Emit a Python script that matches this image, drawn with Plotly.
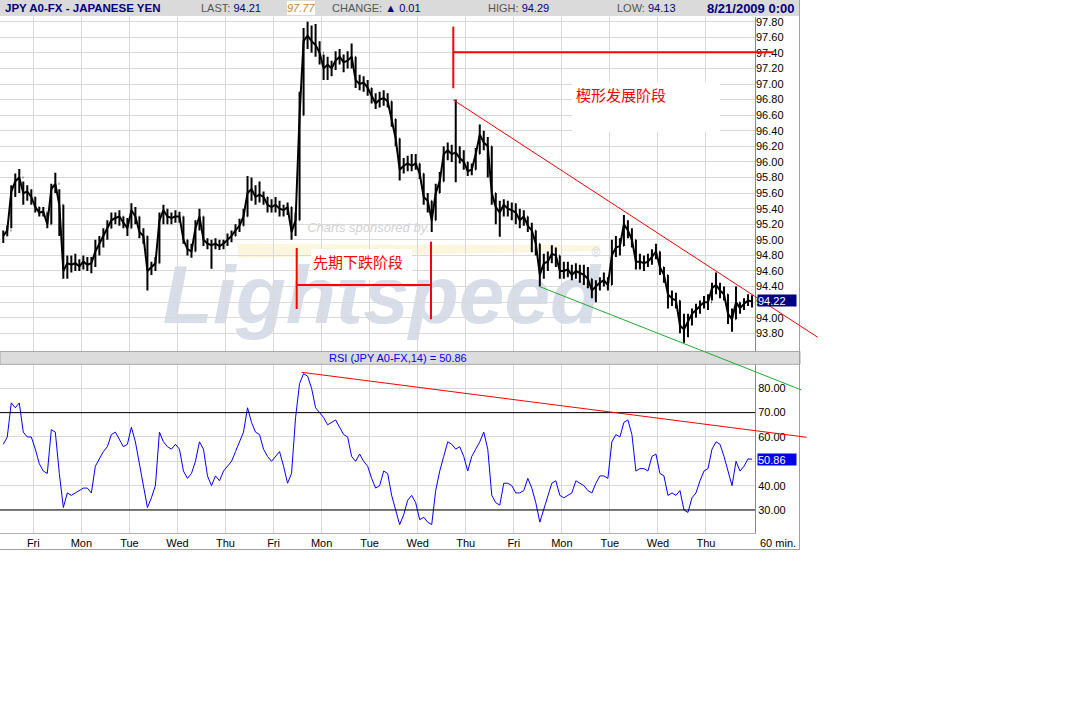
import plotly.graph_objects as go

W, H = 1092, 701

# ---------------- data ----------------
day_labels = ["Fri", "Mon", "Tue", "Wed", "Thu", "Fri", "Mon", "Tue",
              "Wed", "Thu", "Fri", "Mon", "Tue", "Wed", "Thu"]
price_ticks = [93.8, 94.0, 94.2, 94.4, 94.6, 94.8, 95.0, 95.2, 95.4, 95.6,
               95.8, 96.0, 96.2, 96.4, 96.6, 96.8, 97.0, 97.2, 97.4, 97.6, 97.8]
rsi_ticks = [30, 40, 50, 60, 70, 80]
rsi_bands = [70, 30]

first_session_hours = [8, 10, 12, 14, 16, 18, 20, 22]          # Thu 30 Jul (partial)
bar_hours = [0, 2, 4, 6, 8, 10, 12, 14, 16, 18, 20, 22]          # 2-hour bars
n_sessions = 15                                                  # Fri 31 Jul .. Thu 20 Aug

first_open = 95.00
close = [
    95.05, 95.12, 95.62, 95.75, 95.80, 95.60, 95.62, 95.55,
    95.42, 95.35, 95.36, 95.20, 95.65, 95.72, 95.45, 94.60, 94.70, 94.68, 94.70, 94.66,
    94.72, 94.68, 94.70, 94.85, 94.95, 95.05, 95.15, 95.25, 95.28, 95.30, 95.22, 95.15,
    95.38, 95.30, 95.10, 95.05, 94.60, 94.65, 94.70, 95.25, 95.38, 95.30, 95.28, 95.30,
    95.30, 95.00, 94.88, 94.85, 95.15, 95.30, 95.00, 94.95, 94.93, 94.95, 94.92, 94.95,
    95.00, 95.05, 95.12, 95.18, 95.30, 95.60, 95.65, 95.55, 95.58, 95.55, 95.45, 95.42,
    95.45, 95.40, 95.38, 95.42, 95.10, 95.25, 96.60, 97.55, 97.62, 97.55, 97.50, 97.40,
    97.20, 97.25, 97.20, 97.30, 97.35, 97.28, 97.30, 97.35, 97.05, 97.00, 97.02, 96.95,
    96.85, 96.75, 96.80, 96.82, 96.78, 96.55, 96.30, 95.90, 95.95, 95.98, 95.95, 95.98,
    95.85, 95.55, 95.50, 95.25, 95.60, 95.75, 96.10, 96.15, 96.10, 96.12, 96.05, 96.00,
    95.88, 95.90, 96.10, 96.35, 96.25, 96.20, 95.60, 95.42, 95.35, 95.45, 95.40, 95.38,
    95.35, 95.25, 95.30, 95.18, 95.12, 94.95, 94.55, 94.70, 94.72, 94.82, 94.80, 94.60,
    94.60, 94.62, 94.55, 94.60, 94.58, 94.55, 94.50, 94.35, 94.40, 94.45, 94.48, 94.42,
    94.80, 94.90, 94.92, 95.20, 95.12, 95.00, 94.72, 94.72, 94.70, 94.72, 94.78, 94.85,
    94.65, 94.55, 94.30, 94.25, 94.22, 93.90, 93.85, 93.95, 94.05, 94.10, 94.15, 94.20,
    94.20, 94.38, 94.42, 94.35, 94.30, 94.05, 93.98, 94.20, 94.12, 94.18, 94.22, 94.21,
]
high = [
    95.12, 95.18, 95.70, 95.85, 95.91, 95.75, 95.70, 95.65,
    95.55, 95.42, 95.42, 95.35, 95.72, 95.86, 95.65, 95.45, 94.80, 94.80, 94.82, 94.75,
    94.80, 94.78, 94.78, 95.00, 95.05, 95.15, 95.25, 95.35, 95.35, 95.38, 95.30, 95.28,
    95.47, 95.42, 95.30, 95.15, 95.05, 94.72, 94.78, 95.35, 95.45, 95.40, 95.35, 95.38,
    95.36, 95.30, 95.00, 94.95, 95.25, 95.40, 95.30, 95.02, 95.00, 95.02, 95.00, 95.00,
    95.08, 95.12, 95.20, 95.27, 95.40, 95.82, 95.80, 95.70, 95.75, 95.62, 95.55, 95.52,
    95.55, 95.50, 95.45, 95.48, 95.42, 95.35, 96.90, 97.72, 97.80, 97.75, 97.77, 97.55,
    97.38, 97.35, 97.30, 97.42, 97.45, 97.38, 97.42, 97.52, 97.35, 97.12, 97.10, 97.05,
    96.95, 96.88, 96.90, 96.92, 96.88, 96.78, 96.55, 96.30, 96.05, 96.08, 96.10, 96.10,
    95.98, 95.85, 95.60, 95.50, 95.72, 95.87, 96.20, 96.25, 96.22, 96.80, 96.20, 96.15,
    96.00, 95.98, 96.18, 96.48, 96.40, 96.32, 96.20, 95.60, 95.50, 95.52, 95.50, 95.48,
    95.47, 95.40, 95.38, 95.30, 95.22, 95.12, 94.95, 94.82, 94.85, 94.93, 94.90, 94.80,
    94.72, 94.72, 94.68, 94.70, 94.68, 94.68, 94.65, 94.50, 94.48, 94.52, 94.58, 94.52,
    95.00, 95.05, 95.02, 95.32, 95.25, 95.15, 95.00, 94.82, 94.80, 94.82, 94.88, 94.95,
    94.85, 94.65, 94.55, 94.35, 94.32, 94.22, 94.05, 94.05, 94.12, 94.18, 94.22, 94.28,
    94.30, 94.45, 94.58, 94.45, 94.40, 94.30, 94.12, 94.40, 94.20, 94.25, 94.30, 94.29,
]
low = [
    94.96, 95.05, 95.15, 95.55, 95.60, 95.45, 95.50, 95.45,
    95.35, 95.30, 95.30, 95.15, 95.20, 95.60, 95.05, 94.50, 94.50, 94.58, 94.60, 94.60,
    94.62, 94.60, 94.57, 94.65, 94.80, 94.90, 95.00, 95.15, 95.20, 95.18, 95.15, 95.05,
    95.15, 95.20, 95.02, 94.95, 94.35, 94.55, 94.60, 94.70, 95.20, 95.20, 95.20, 95.22,
    95.22, 94.95, 94.80, 94.77, 94.85, 95.12, 94.92, 94.88, 94.63, 94.88, 94.87, 94.88,
    94.92, 94.97, 95.05, 95.10, 95.18, 95.30, 95.50, 95.45, 95.48, 95.45, 95.35, 95.35,
    95.35, 95.30, 95.30, 95.32, 95.00, 95.05, 95.25, 96.60, 97.45, 97.40, 97.35, 97.25,
    97.05, 97.05, 97.10, 97.18, 97.25, 97.15, 97.20, 97.20, 96.95, 96.92, 96.90, 96.85,
    96.75, 96.68, 96.70, 96.72, 96.70, 96.45, 96.20, 95.76, 95.85, 95.88, 95.88, 95.90,
    95.78, 95.45, 95.35, 95.10, 95.25, 95.60, 95.75, 96.02, 96.00, 95.74, 95.98, 95.90,
    95.82, 95.83, 95.90, 96.10, 96.15, 95.80, 95.45, 95.20, 95.04, 95.30, 95.30, 95.25,
    95.20, 95.15, 95.18, 95.10, 94.84, 94.80, 94.40, 94.50, 94.60, 94.70, 94.65, 94.50,
    94.50, 94.52, 94.48, 94.50, 94.45, 94.42, 94.38, 94.25, 94.20, 94.35, 94.40, 94.35,
    94.42, 94.78, 94.80, 94.92, 95.02, 94.90, 94.62, 94.62, 94.60, 94.65, 94.68, 94.75,
    94.55, 94.45, 94.12, 94.15, 94.12, 93.80, 93.68, 93.75, 93.90, 94.00, 94.05, 94.12,
    94.10, 94.22, 94.30, 94.25, 94.22, 93.92, 93.82, 93.98, 94.05, 94.10, 94.15, 94.13,
]
rsi = [
    57, 60, 74, 72, 74, 62, 60, 60,
    55, 49, 46, 45, 63, 62, 45, 31, 37, 36, 37, 38,
    39, 39, 37, 48, 51, 54, 56, 61, 62, 59, 56, 57,
    64, 58, 49, 40, 31, 35, 40, 62, 58, 56, 55, 57,
    55, 46, 43, 45, 50, 58, 55, 44, 40, 44, 42, 46,
    48, 50, 54, 58, 62, 72, 66, 62, 61, 55, 52, 50,
    52, 54, 48, 41, 45, 68, 82, 86, 85, 80, 72, 70,
    68, 65, 66, 67, 64, 61, 60, 52, 50, 53, 50, 48,
    43, 39, 40, 46, 45, 36, 30, 24, 28, 34, 36, 33,
    26, 27, 25, 24, 38, 46, 52, 58, 57, 55, 56, 52,
    46, 52, 55, 58, 62, 55, 36, 33, 32, 41, 41, 40,
    37, 37, 38, 43, 39, 33, 25, 30, 36, 41, 42, 36,
    35, 36, 37, 42, 41, 40, 38, 37, 41, 44, 44, 43,
    58, 61, 60, 66, 67, 61, 46, 47, 47, 46, 52, 53,
    45, 44, 36, 37, 36, 38, 30, 29, 35, 37, 42, 46,
    47, 55, 58, 57, 52, 46, 40, 50, 46, 48, 51, 50.86,
]
last_price = 94.22
last_rsi = 50.86

# hand-drawn analysis lines (day index, value)
wedge_top_day, wedge_top_price = [8.741, 16.325], [96.795, 93.749]
wedge_bot_day, wedge_bot_price = [10.545, 15.99], [94.398, 93.072]
rsi_trend_day, rsi_trend_val = [5.586, 16.095], [86.57, 59.87]
stage2_day = [8.741, 15.394]
stage2_vert = [97.736, 96.945]
stage2_level = 97.407
stage1_day = [5.482, 8.277]
stage1_left = [94.895, 94.112]
stage1_right = [94.976, 93.98]
stage1_level = 94.42

# ---------------- geometry ----------------
xs = [-1 + (h + 1) / 24 for h in first_session_hours] + \
     [d + (h + 1) / 24 for d in range(n_sessions) for h in bar_hours]
assert len(xs) == len(close) == len(high) == len(low) == len(rsi)
opens = [first_open] + close[:-1]

X_RANGE = [-0.693, 15.02]
X_DOM = [0.0, 755 / W]
P_RANGE = [93.573, 97.860]
P_DOM = [1 - 351 / H, 1 - 17 / H]
R_RANGE = [20.67, 89.86]
R_DOM = [1 - 532.7 / H, 1 - 364.3 / H]


def px(x):
    return x / W


def py(y):
    return 1 - y / H


def lin(v, rng, dom):
    return dom[0] + (v - rng[0]) / (rng[1] - rng[0]) * (dom[1] - dom[0])


def dx(d):
    return lin(d, X_RANGE, X_DOM)


def dp(p):
    return lin(p, P_RANGE, P_DOM)


def dr(v):
    return lin(v, R_RANGE, R_DOM)


FONT = "Liberation Sans, Arial, sans-serif"
CJK = "Noto Sans CJK SC"
GRID = "#d9d9d9"
NAVY = "#000080"

fig = go.Figure()
fig.add_trace(go.Ohlc(
    x=xs, open=opens, high=high, low=low, close=close,
    xaxis="x", yaxis="y",
    increasing=dict(line=dict(color="black", width=2)),
    decreasing=dict(line=dict(color="black", width=2)),
    tickwidth=0.15, showlegend=False, hoverinfo="skip",
))
fig.add_trace(go.Scatter(
    x=xs, y=close, xaxis="x", yaxis="y", mode="lines",
    line=dict(color="black", width=2), showlegend=False, hoverinfo="skip",
))
fig.add_trace(go.Scatter(
    x=xs, y=rsi, xaxis="x2", yaxis="y2", mode="lines",
    line=dict(color="#0000ff", width=1), showlegend=False, hoverinfo="skip",
))

shapes = []
# watermark (above grid, below data)
WM_LAYER = "between"
shapes.append(dict(type="path", xref="paper", yref="paper", layer=WM_LAYER,
                   path=f"M {px(238)},{py(244)} L {px(600)},{py(245)} L {px(600)},{py(251)} L {px(238)},{py(258)} Z",
                   fillcolor="#fdf6df", line=dict(width=0)))
shapes.append(dict(type="rect", xref="paper", yref="paper", layer=WM_LAYER,
                   x0=px(163), x1=px(600), y0=py(330), y1=py(242),
                   line=dict(width=0), fillcolor="rgba(0,0,0,0)",
                   label=dict(text="Lightspeed", textposition="middle center",
                              font=dict(family=FONT, size=82, color="#d7dee9",
                                        weight="bold", style="italic"))))
shapes.append(dict(type="rect", xref="paper", yref="paper", layer=WM_LAYER,
                   x0=px(305), x1=px(432), y0=py(234), y1=py(218),
                   line=dict(width=0), fillcolor="rgba(0,0,0,0)",
                   label=dict(text="Charts sponsored by.", textposition="middle center",
                              font=dict(family=FONT, size=13, color="#d2d2d2",
                                        style="italic"))))
shapes.append(dict(type="rect", xref="paper", yref="paper", layer=WM_LAYER,
                   x0=px(588), x1=px(604), y0=py(260), y1=py(244),
                   line=dict(width=0), fillcolor="rgba(0,0,0,0)",
                   label=dict(text="®", textposition="middle center",
                              font=dict(family=FONT, size=12, color="#d0d8e4"))))

# header bar and panel frames
shapes.append(dict(type="rect", xref="paper", yref="paper", x0=0, x1=px(800),
                   y0=py(16), y1=1, fillcolor="#dadada", line=dict(width=0)))
shapes.append(dict(type="rect", xref="paper", yref="paper", x0=px(287), x1=px(315),
                   y0=py(15), y1=py(1), fillcolor="white", line=dict(width=0)))
shapes.append(dict(type="rect", xref="paper", yref="paper", x0=0, x1=px(800),
                   y0=py(364.3), y1=py(351.5), fillcolor="#dcdcdc",
                   line=dict(color="#a8a8a8", width=1)))
shapes.append(dict(type="line", xref="paper", yref="paper", x0=px(799.5), x1=px(799.5),
                   y0=py(549.5), y1=1, line=dict(color="#a0a0a0", width=1)))
shapes.append(dict(type="line", xref="paper", yref="paper", x0=0, x1=px(800),
                   y0=py(549.5), y1=py(549.5), line=dict(color="#a0a0a0", width=1)))
shapes.append(dict(type="line", xref="paper", yref="paper", x0=px(755.5), x1=px(755.5),
                   y0=py(351.5), y1=py(17), line=dict(color="#888888", width=1)))

# RSI 70/30 bands
for b in rsi_bands:
    shapes.append(dict(type="line", xref="x2 domain", yref="y2", x0=0, x1=1,
                       y0=b, y1=b, line=dict(color="black", width=1)))

# white label boxes for the Chinese notes
shapes.append(dict(type="rect", xref="paper", yref="paper", x0=px(572), x1=px(720),
                   y0=py(132), y1=py(82), fillcolor="white", line=dict(width=0)))
shapes.append(dict(type="rect", xref="paper", yref="paper", x0=px(311), x1=px(412),
                   y0=py(280), y1=py(249), fillcolor="white", line=dict(width=0)))

RED = "#ff0000"
# wedge lines
shapes.append(dict(type="line", xref="paper", yref="paper",
                   x0=dx(wedge_top_day[0]), y0=dp(wedge_top_price[0]),
                   x1=dx(wedge_top_day[1]), y1=dp(wedge_top_price[1]),
                   line=dict(color=RED, width=1)))
shapes.append(dict(type="line", xref="paper", yref="paper",
                   x0=dx(wedge_bot_day[0]), y0=dp(wedge_bot_price[0]),
                   x1=dx(wedge_bot_day[1]), y1=dp(wedge_bot_price[1]),
                   line=dict(color="#22aa33", width=1)))
shapes.append(dict(type="line", xref="paper", yref="paper",
                   x0=dx(rsi_trend_day[0]), y0=dr(rsi_trend_val[0]),
                   x1=dx(rsi_trend_day[1]), y1=dr(rsi_trend_val[1]),
                   line=dict(color=RED, width=1)))
# stage brackets
shapes.append(dict(type="line", xref="paper", yref="paper",
                   x0=dx(stage2_day[0]), x1=dx(stage2_day[0]),
                   y0=dp(stage2_vert[0]), y1=dp(stage2_vert[1]),
                   line=dict(color=RED, width=2)))
shapes.append(dict(type="line", xref="paper", yref="paper",
                   x0=dx(stage2_day[0]), x1=dx(stage2_day[1]),
                   y0=dp(stage2_level), y1=dp(stage2_level),
                   line=dict(color=RED, width=2)))
shapes.append(dict(type="line", xref="paper", yref="paper",
                   x0=dx(stage1_day[0]), x1=dx(stage1_day[0]),
                   y0=dp(stage1_left[0]), y1=dp(stage1_left[1]),
                   line=dict(color=RED, width=2)))
shapes.append(dict(type="line", xref="paper", yref="paper",
                   x0=dx(stage1_day[1]), x1=dx(stage1_day[1]),
                   y0=dp(stage1_right[0]), y1=dp(stage1_right[1]),
                   line=dict(color=RED, width=2)))
shapes.append(dict(type="line", xref="paper", yref="paper",
                   x0=dx(stage1_day[0]), x1=dx(stage1_day[1]),
                   y0=dp(stage1_level), y1=dp(stage1_level),
                   line=dict(color=RED, width=2)))

ann = []


def hdr(x, text, anchor="left", size=11, family=FONT):
    ann.append(dict(xref="paper", yref="paper", x=px(x), y=py(8), text=text,
                    showarrow=False, xanchor=anchor, yanchor="middle",
                    font=dict(family=family, size=size, color=NAVY)))


GRAY = "#555555"
hdr(3, "<b>JPY A0-FX - JAPANESE YEN</b>", size=11.5)
hdr(199, f"<span style='color:{GRAY}'>LAST: </span>94.21")
hdr(301, "<i>97.77</i>", anchor="center")
ann[-1]["font"]["color"] = "#c8843a"
hdr(330, f"<span style='color:{GRAY}'>CHANGE: </span>▲ 0.01")
hdr(486, f"<span style='color:{GRAY}'>HIGH: </span>94.29")
hdr(615, f"<span style='color:{GRAY}'>LOW: </span>94.13")
hdr(796, "<b>8/21/2009 0:00</b>", anchor="right", size=13)

ann.append(dict(xref="paper", yref="paper", x=px(398), y=py(358),
                text="RSI (JPY A0-FX,14) = 50.86", showarrow=False,
                xanchor="center", yanchor="middle",
                font=dict(family=FONT, size=11, color="#0000ff")))
ann.append(dict(xref="paper", yref="paper", x=px(778), y=py(543),
                text="60 min.", showarrow=False, xanchor="center", yanchor="middle",
                font=dict(family=FONT, size=11, color="black")))
ann.append(dict(xref="paper", yref="y", x=px(757), y=last_price,
                text="94.22", showarrow=False, xanchor="left", yanchor="middle",
                bgcolor=NAVY, width=38, height=11, align="left", borderpad=0,
                font=dict(family=FONT, size=11, color="white")))
ann.append(dict(xref="paper", yref="y2", x=px(757), y=last_rsi,
                text="50.86", showarrow=False, xanchor="left", yanchor="middle",
                bgcolor="#0000ee", width=38, height=11, align="left", borderpad=0,
                font=dict(family=FONT, size=11, color="white")))
ann.append(dict(xref="paper", yref="paper", x=px(621), y=py(95),
                text="楔形发展阶段", showarrow=False, xanchor="center", yanchor="middle",
                font=dict(family=CJK, size=15, color=RED)))
ann.append(dict(xref="paper", yref="paper", x=px(358), y=py(261),
                text="先期下跌阶段", showarrow=False, xanchor="center", yanchor="middle",
                font=dict(family=CJK, size=15, color=RED)))

axis_font = dict(family=FONT, size=11, color="black")
fig.update_layout(
    width=W, height=H,
    margin=dict(l=0, r=0, t=0, b=0),
    paper_bgcolor="white", plot_bgcolor="white",
    showlegend=False,
    xaxis=dict(domain=X_DOM, range=X_RANGE, anchor="y",
               tickvals=list(range(n_sessions)), showticklabels=False,
               showgrid=True, gridcolor=GRID, gridwidth=1, zeroline=False,
               ticks="", rangeslider=dict(visible=False), fixedrange=True),
    yaxis=dict(domain=P_DOM, range=P_RANGE, anchor="x", side="right",
               tickvals=price_ticks, tickformat=".2f", tickfont=axis_font,
               showgrid=True, gridcolor=GRID, zeroline=False, ticks="",
               showline=False, fixedrange=True),
    xaxis2=dict(domain=X_DOM, range=X_RANGE, anchor="y2",
                tickvals=list(range(n_sessions)), ticktext=day_labels,
                tickfont=axis_font, showgrid=True, gridcolor=GRID,
                zeroline=False, ticks="", showline=True, linecolor="#b0b0b0",
                fixedrange=True),
    yaxis2=dict(domain=R_DOM, range=R_RANGE, anchor="x2", side="right",
                tickvals=rsi_ticks, tickformat=".2f", tickfont=axis_font,
                showgrid=True, gridcolor=GRID, zeroline=False, ticks="",
                showline=True, linecolor="#888888", fixedrange=True),
    shapes=shapes,
    annotations=ann,
)

fig.write_html("out.html", config={"displayModeBar": False},
               post_script="document.body.style.margin='0';")
